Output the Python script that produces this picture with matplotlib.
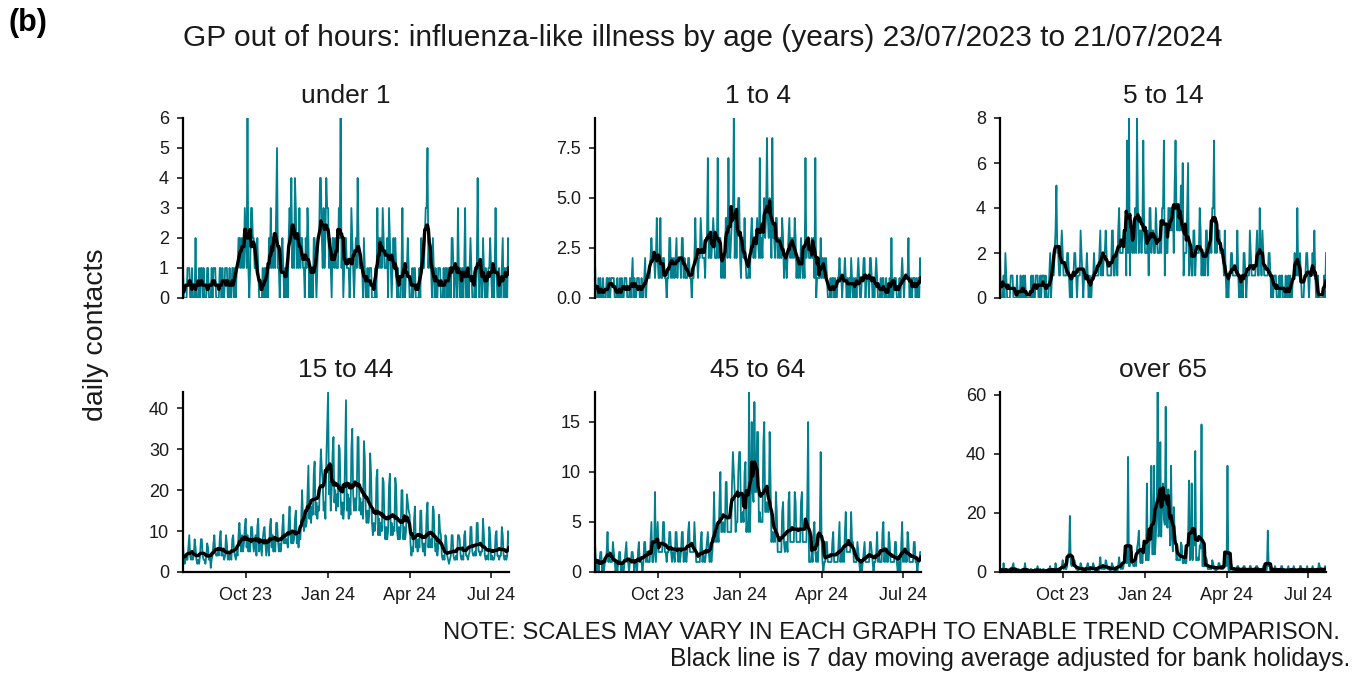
import numpy as np
import pandas as pd
import matplotlib
matplotlib.use("Agg")
import matplotlib.pyplot as plt
import matplotlib.dates as mdates

plt.rcParams['font.family'] = ['Liberation Sans', 'DejaVu Sans']

# ---------------- data ----------------
start_date = "2023-07-23"
end_date = "2024-07-21"
panel_titles = ["under 1", "1 to 4", "5 to 14", "15 to 44", "45 to 64", "over 65"]

# daily contacts, one string per week (Sun..Sat)
under1_weeks = ["1000011","1001000","2000101","1010001","1000101","1100001","1010011","1001001",
    "1010112","2121213","2161013","3221112","1000010","1101021","3121213","5110112","1010102",
    "3241214","3121312","2110213","2010102","2101224","4213124","3312102","2121113","2612012",
    "2111013","2101214","2111102","1001011","1000010","3121213","2111203","2101212","1010001",
    "3010112","1000101","1000010","2111233","5121102","1010011","1000101","1010102","2101103",
    "1010101","3001012","1000101","4101102","1010011","2101013","1001001","2010102","1"]
age1to4_weeks = ["2000101","0010001","1010111","1000100","1010011","1000101","2010011","1001001",
    "2011112","3222124","2114112","2110113","3121212","3122213","3121112","2110112","4221224",
    "3222133","7232234","3222723","3121214","4273234","4924245","5213324","2111213","4323234",
    "3272324","5348435","4283324","4232324","3122123","4232324","3121213","2121723","3222323",
    "1701111","3121212","1000101","1010011","2110112","1010102","1010101","2100112","2011102",
    "2101012","1000101","1001000","1030011","1000101","2101111","3001011","1010102","1"]
age5to14_weeks = ["2000102","1000011","1000010","0010010","1000000","1010011","1001011","1010001",
    "2011123","5221123","2111122","1010112","2101113","2101112","1010011","2111112","3121223",
    "2111113","3112213","4222233","3172813","3232428","4233237","3222314","4233224","3222324",
    "4713224","4343425","7434335","3612224","6122113","3122224","3121213","3122324","4723233",
    "3222213","1010112","2111113","1010102","2101113","2111112","3114213","2111112","2101011",
    "1000101","1000100","1010011","2114112","1000112","2101112","1310010","0000010","2"]
age15to44_weeks = ["7 3 2 4 3 3 6","9 4 3 4 3 4 8","6 3 2 3 2 4 8","8 4 3 3 2 4 7",
    "6 3 4 1 3 4 7","9 5 4 4 5 4 8","10 4 5 4 3 4 9","7 3 4 3 4 3 8","9 5 4 3 5 4 9",
    "12 8 5 9 5 7 11","13 6 9 5 7 5 11","11 8 5 7 9 4 11","13 5 8 6 4 8 10","11 7 4 6 8 4 11",
    "13 6 9 5 8 5 12","12 8 5 7 5 7 11","14 7 9 7 8 6 12","16 9 7 10 7 8 13","15 7 9 6 9 8 13",
    "20 13 10 14 11 12 19","26 13 17 12 16 14 24","27 14 17 13 16 15 24","30 25 22 15 17 13 27",
    "36 44 19 22 15 20 29","33 17 20 15 19 16 31","30 18 14 17 13 16 29","42 15 19 13 18 14 30",
    "35 19 15 18 15 19 33","33 15 18 14 17 13 32","28 15 12 15 12 14 29","24 12 9 12 10 12 23",
    "25 9 13 9 12 10 23","22 11 8 11 8 10 21","24 9 12 9 11 10 23","21 10 8 11 8 10 20",
    "20 8 11 8 10 19 17","15 14 7 4 6 5 13","16 6 8 5 8 6 15","15 7 5 7 4 7 14","17 6 9 6 8 6 16",
    "15 7 5 7 4 6 14","10 9 4 3 4 3 9","8 4 3 2 3 4 9","9 4 3 3 4 3 9","9 8 4 3 4 3 9",
    "10 4 4 3 4 5 11","11 5 4 4 5 4 12","12 5 5 4 5 5 13","9 4 3 4 4 3 11","9 3 4 3 3 4 9",
    "10 4 4 3 4 4 11","9 4 3 4 3 4 10","7"]
age45to64_weeks = ["3 1 0 1 0 1 2","2 0 1 0 1 1 2","4 1 2 1 1 1 3","2 1 0 1 0 1 2",
    "2 0 1 0 0 1 2","3 1 1 0 1 1 2","2 1 0 1 1 0 2","3 1 1 1 0 1 3","3 1 2 1 1 1 3",
    "5 1 1 2 8 1 3","5 2 2 2 2 2 5","5 2 2 1 2 2 4","4 2 1 2 2 1 4","4 2 1 2 1 2 4",
    "4 1 2 2 1 2 4","5 2 2 2 2 2 5","3 1 1 1 1 1 3","4 1 2 1 1 2 3","4 2 1 2 1 2 4",
    "8 3 4 3 4 3 7","10 4 4 5 4 4 9","9 4 4 4 4 4 9","12 10 8 4 5 5 10","12 12 5 5 6 5 10",
    "11 4 5 4 18 4 8","15 8 7 17 8 8 14","14 5 6 5 5 5 13","15 6 6 7 6 6 14","9 3 4 3 4 3 8",
    "6 2 2 2 2 2 6","7 3 2 3 3 2 7","8 3 3 3 3 3 8","7 3 3 3 3 3 7","8 3 3 3 3 3 7",
    "15 1 1 1 2 1 4","5 2 1 2 1 4 4","12 3 1 0 1 1 3","3 1 1 1 1 1 3","4 1 1 1 1 1 3",
    "5 1 2 1 2 1 4","6 2 2 2 2 2 6","3 3 1 1 1 1 3","2 1 0 1 0 1 2","3 1 1 1 1 1 3",
    "3 2 1 0 1 1 2","4 1 2 1 1 1 4","5 1 2 1 2 1 4","3 1 1 1 1 1 3","3 1 0 1 1 0 3",
    "5 1 2 1 2 1 4","3 1 1 1 1 1 3","3 1 1 0 1 1 2","2"]
over65_weeks = ["1 0 0 0 3 0 1","1 0 0 1 0 0 1","2 3 0 0 1 0 1","1 0 0 0 0 1 1",
    "3 0 1 0 0 0 1","1 0 0 0 1 0 1","2 0 0 1 0 0 1","1 0 0 0 0 1 1","2 0 1 0 0 0 3",
    "1 0 0 1 0 1 2","4 1 2 1 1 2 6","5 19 3 2 3 2 4","3 1 1 0 1 1 3","2 0 1 0 1 0 2",
    "3 1 0 1 1 1 3","2 0 1 0 1 0 2","5 1 2 1 1 1 4","3 1 1 1 0 1 3","2 1 0 1 1 0 2",
    "5 2 1 2 1 2 6","7 3 3 39 2 2 6","7 3 2 2 3 2 8","10 14 6 3 8 3 9","9 10 4 30 4 4 10",
    "12 36 6 6 36 6 12","20 61 12 14 44 12 24","30 18 16 56 17 15 28","20 9 36 12 7 22 14",
    "12 4 5 4 4 4 10","9 3 3 4 3 3 8","10 31 4 5 30 4 10","9 41 4 4 5 4 9","8 50 2 2 2 2 5",
    "4 1 1 1 1 1 4","3 1 1 0 1 1 3","3 1 1 1 1 2 2","3 2 36 1 0 1 3","2 1 0 1 0 1 2",
    "2 0 1 0 1 0 2","2 1 0 0 1 0 2","2 0 1 0 0 1 2","2 1 0 0 1 0 1","2 0 1 0 1 14 2",
    "2 0 1 0 0 1 2","1 1 0 0 1 0 2","2 0 0 1 0 0 1","2 0 1 0 0 1 2","1 0 0 1 0 0 2",
    "2 0 1 0 1 0 1","2 0 0 1 0 1 2","1 0 1 0 0 0 3","2 0 0 1 0 1 2","1"]

yticks = [[0, 1, 2, 3, 4, 5, 6], [0, 2.5, 5, 7.5], [0, 2, 4, 6, 8],
          [0, 10, 20, 30, 40], [0, 5, 10, 15], [0, 20, 40, 60]]
ytick_labels = [["0", "1", "2", "3", "4", "5", "6"], ["0.0", "2.5", "5.0", "7.5"],
                ["0", "2", "4", "6", "8"], ["0", "10", "20", "30", "40"],
                ["0", "5", "10", "15"], ["0", "20", "40", "60"]]
xtick_dates = ["2023-10-01", "2024-01-01", "2024-04-01", "2024-07-01"]
xtick_labels = ["Oct 23", "Jan 24", "Apr 24", "Jul 24"]


def parse_digits(weeks):
    return [int(c) for w in weeks for c in w]


def parse_nums(weeks):
    return [int(v) for w in weeks for v in w.split()]


series = [parse_digits(under1_weeks), parse_digits(age1to4_weeks), parse_digits(age5to14_weeks),
          parse_nums(age15to44_weeks), parse_nums(age45to64_weeks), parse_nums(over65_weeks)]

TEAL = "#00808F"
TXT = "#1a1a1a"

fig = plt.figure(figsize=(13.65, 6.75), dpi=100)
W, H = 1365.0, 675.0
col_left = [183, 595, 1000]
panel_w = 326
row_top = [118, 392]
panel_h = 180

x0 = pd.Timestamp(start_date)
x1 = pd.Timestamp(end_date)

for i, (title, vals) in enumerate(zip(panel_titles, series)):
    r, c = divmod(i, 3)
    left = col_left[c] / W
    bottom = 1 - (row_top[r] + panel_h) / H
    ax = fig.add_axes([left, bottom, panel_w / W, panel_h / H])
    dates = pd.date_range(start_date, periods=len(vals), freq="D")
    s = pd.Series(vals, index=dates, dtype=float)
    ma = s.rolling(7, center=True, min_periods=1).mean()
    ax.plot(dates, s.values, color=TEAL, lw=1.3)
    ax.plot(dates, ma.values, color="black", lw=2.4)
    ax.set_xlim(x0, x1)
    ax.set_ylim(0, max(vals))
    ax.set_yticks(yticks[i])
    ax.set_yticklabels(ytick_labels[i])
    for sp in ["top", "right"]:
        ax.spines[sp].set_visible(False)
    ax.spines["left"].set_linewidth(1.6)
    ax.spines["bottom"].set_linewidth(1.6)
    ax.tick_params(axis="both", length=4, width=1.2, labelsize=13, colors=TXT,
                   labelcolor=TXT)
    ax.tick_params(axis="y", pad=6)
    ax.tick_params(axis="x", pad=7)
    if r == 0:
        ax.spines["bottom"].set_visible(False)
        ax.set_xticks([])
    else:
        ax.set_xticks([pd.Timestamp(d) for d in xtick_dates])
        ax.set_xticklabels(xtick_labels)
    fig.text((col_left[c] + panel_w / 2) / W, 1 - (row_top[r] - 22) / H, title,
             ha="center", va="center", fontsize=19, color=TXT)

fig.text(183 / W, 1 - 38 / H,
         "GP out of hours: influenza-like illness by age (years) 23/07/2023 to 21/07/2024",
         ha="left", va="center", fontsize=21.5, color=TXT)
fig.text(8 / W, 1 - 23 / H, "(b)", ha="left", va="center", fontsize=22, fontweight="bold",
         color="black")
fig.text(96 / W, 1 - 335 / H, "daily contacts", rotation=90, ha="center", va="center",
         fontsize=20.5, color=TXT)
fig.text(1340 / W, 1 - 633 / H,
         "NOTE: SCALES MAY VARY IN EACH GRAPH TO ENABLE TREND COMPARISON.",
         ha="right", va="center", fontsize=17.2, color=TXT)
fig.text(1350 / W, 1 - 659 / H,
         "Black line is 7 day moving average adjusted for bank holidays.",
         ha="right", va="center", fontsize=17.8, color=TXT)

fig.savefig("out.png", dpi=100)
